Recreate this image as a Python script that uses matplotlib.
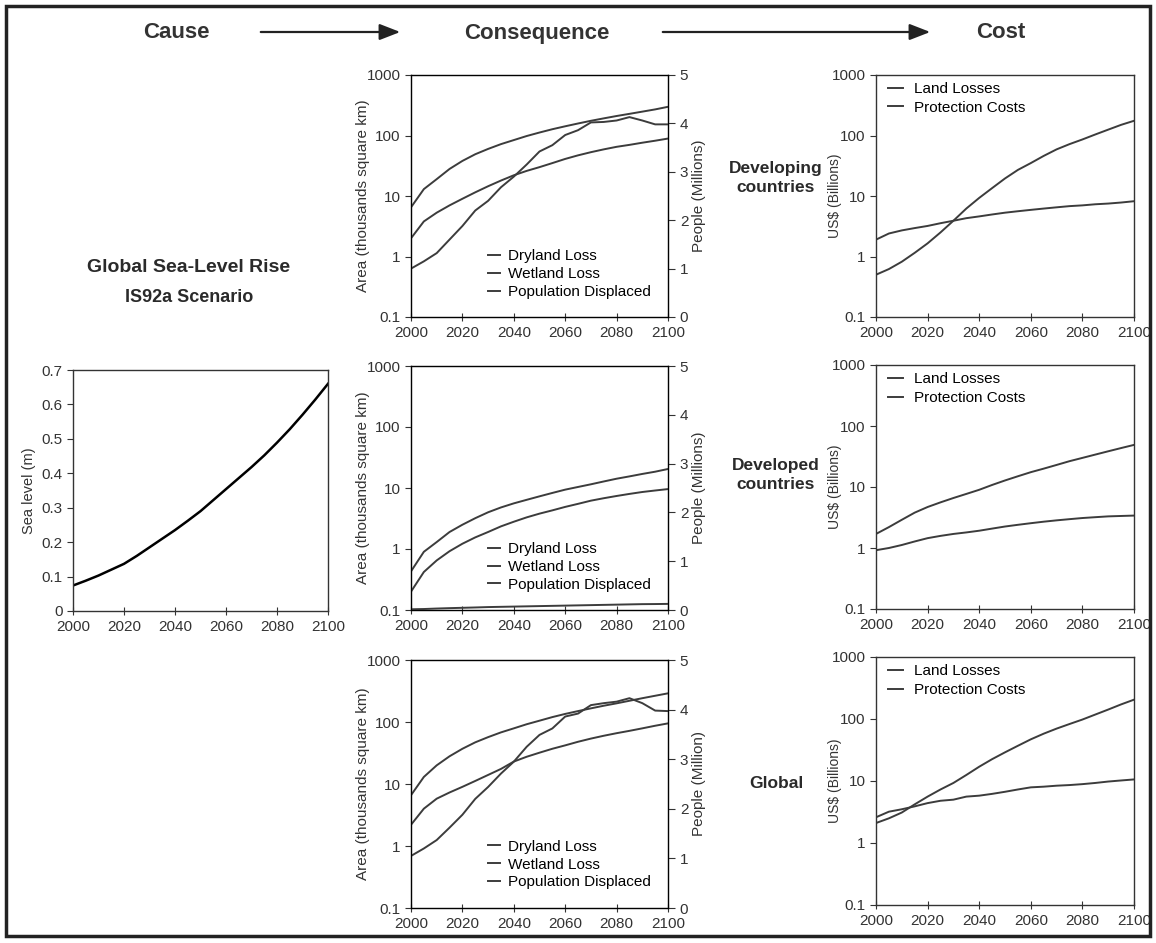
import matplotlib
matplotlib.use("Agg")
import matplotlib.pyplot as plt
from matplotlib.patches import Rectangle, FancyArrowPatch
from matplotlib.lines import Line2D

plt.rcParams['font.family'] = ['Liberation Sans', 'DejaVu Sans']

years = [2000, 2005, 2010, 2015, 2020, 2025, 2030, 2035, 2040, 2045, 2050,
         2055, 2060, 2065, 2070, 2075, 2080, 2085, 2090, 2095, 2100]

# cause: global sea-level rise (m)
sea_level = [0.074, 0.088, 0.103, 0.12, 0.137, 0.16, 0.185, 0.21, 0.235, 0.262, 0.29,
             0.322, 0.354, 0.386, 0.418, 0.452, 0.489, 0.528, 0.57, 0.614, 0.66]

# consequence: area lost (thousand km2) and people displaced (millions)
dev_ing_dry = [6.5, 13, 19, 28, 38, 49, 60, 72, 84, 98, 112,
               127, 142, 158, 175, 192, 210, 228, 248, 270, 298]
dev_ing_wet = [2.0, 3.8, 5.3, 7.0, 9.0, 11.5, 14.5, 18, 22, 26, 30,
               35, 41, 47, 53, 59, 65, 70, 76, 82, 89]
dev_ing_pop = [1.0, 1.15, 1.32, 1.6, 1.88, 2.2, 2.4, 2.68, 2.9, 3.15, 3.42,
               3.55, 3.76, 3.86, 4.02, 4.03, 4.06, 4.13, 4.06, 3.98, 3.98]

dev_ed_dry = [0.43, 0.9, 1.3, 1.9, 2.5, 3.2, 4.0, 4.8, 5.6, 6.4, 7.3,
              8.3, 9.4, 10.4, 11.5, 12.8, 14.2, 15.5, 17, 18.5, 20.5]
dev_ed_wet = [0.2, 0.42, 0.65, 0.92, 1.22, 1.55, 1.9, 2.35, 2.8, 3.3, 3.8,
              4.3, 4.9, 5.5, 6.2, 6.8, 7.4, 8.0, 8.6, 9.1, 9.6]
dev_ed_pop = [0.015, 0.02, 0.03, 0.038, 0.045, 0.052, 0.06, 0.065, 0.07, 0.075, 0.08,
              0.085, 0.09, 0.095, 0.1, 0.105, 0.11, 0.115, 0.12, 0.122, 0.125]

glob_dry = [6.6, 13, 20, 28, 37, 47, 57, 68, 79, 92, 105,
            120, 135, 150, 166, 183, 200, 220, 242, 265, 290]
glob_wet = [2.2, 4.0, 5.8, 7.3, 9.0, 11.2, 14, 17.5, 23, 27.5, 32,
            37, 42, 48, 54, 60, 66, 72, 79, 87, 95]
glob_pop = [1.05, 1.2, 1.37, 1.62, 1.88, 2.2, 2.44, 2.71, 2.95, 3.25, 3.49,
            3.62, 3.86, 3.92, 4.09, 4.13, 4.16, 4.23, 4.13, 3.98, 3.97]

# cost: US$ billions
dev_ing_land = [0.5, 0.62, 0.82, 1.15, 1.65, 2.5, 3.9, 6.2, 9.3, 13.5, 19.5,
                27, 35, 46, 59, 72, 86, 104, 125, 150, 175]
dev_ing_prot = [1.9, 2.4, 2.7, 2.95, 3.2, 3.55, 3.9, 4.3, 4.6, 4.95, 5.3,
                5.6, 5.9, 6.2, 6.5, 6.8, 7.0, 7.3, 7.5, 7.8, 8.2]
dev_ed_land = [1.7, 2.2, 2.9, 3.8, 4.7, 5.6, 6.6, 7.7, 9.0, 10.8, 12.8,
               15, 17.5, 20, 23, 26.5, 30, 34, 38.5, 43.5, 49]
dev_ed_prot = [0.92, 1.0, 1.12, 1.28, 1.45, 1.58, 1.7, 1.8, 1.92, 2.08, 2.25,
               2.4, 2.55, 2.7, 2.84, 2.97, 3.1, 3.2, 3.3, 3.35, 3.4]
glob_land = [2.1, 2.5, 3.1, 4.2, 5.6, 7.3, 9.3, 12.5, 17, 22.5, 29,
             37, 47, 58, 70, 83, 98, 118, 142, 172, 205]
glob_prot = [2.6, 3.2, 3.5, 3.9, 4.4, 4.8, 5.0, 5.6, 5.8, 6.2, 6.7,
             7.3, 7.9, 8.1, 8.4, 8.6, 8.9, 9.3, 9.8, 10.2, 10.6]

x_ticks = [2000, 2020, 2040, 2060, 2080, 2100]
log_ticks = [0.1, 1, 10, 100, 1000]
log_labels = ["0.1", "1", "10", "100", "1000"]
sea_ticks = [0, 0.1, 0.2, 0.3, 0.4, 0.5, 0.6, 0.7]
sea_labels = ["0", "0.1", "0.2", "0.3", "0.4", "0.5", "0.6", "0.7"]
people_ticks = [0, 1, 2, 3, 4, 5]
row_names = ["Developing\ncountries", "Developed\ncountries", "Global"]
people_units = ["People (Millions)", "People (Millions)", "People (Million)"]

W, H = 1156, 943
fig = plt.figure(figsize=(W / 100, H / 100), dpi=100)
LC = "#3c3c3c"
TC = "#2a2a2a"
AC = "#333333"


def px_axes(x0, y0, x1, y1):
    return fig.add_axes([x0 / W, 1 - y1 / H, (x1 - x0) / W, (y1 - y0) / H])


def style(ax):
    for s in ax.spines.values():
        s.set_color(AC)
        s.set_linewidth(1.0)
    ax.tick_params(labelsize=11, colors=AC, length=4)
    ax.tick_params(axis="x", direction="inout", length=6)
    ax.set_xlim(2000, 2100)
    ax.set_xticks(x_ticks)


def log_axis(ax):
    ax.set_yscale("log")
    ax.set_ylim(0.1, 1000)
    ax.set_yticks(log_ticks)
    ax.set_yticklabels(log_labels)
    ax.minorticks_off()


# frame and header
fig.patches.append(Rectangle((6 / W, 1 - 936 / H), 1144 / W, 930 / H,
                             transform=fig.transFigure, fill=False,
                             edgecolor="#222222", linewidth=2.5))
for txt, xc in [("Cause", 176), ("Consequence", 537), ("Cost", 1001)]:
    fig.text(xc / W, 1 - 33 / H, txt, ha="center", va="center",
             fontsize=16, fontweight="bold", color=AC)
for xa, xb in [(258, 403), (660, 933)]:
    fig.add_artist(FancyArrowPatch(
        (xa / W, 1 - 32 / H), (xb / W, 1 - 32 / H), transform=fig.transFigure,
        arrowstyle="-|>,head_length=0.9,head_width=0.35", color="#222222",
        linewidth=1.6, mutation_scale=14))

# cause panel
fig.text(189 / W, 1 - 268 / H, "Global Sea-Level Rise", ha="center", va="center",
         fontsize=14, fontweight="bold", color=TC)
fig.text(189 / W, 1 - 298 / H, "IS92a Scenario", ha="center", va="center",
         fontsize=13, fontweight="bold", color=TC)
ax = px_axes(73, 370, 328, 611)
ax.plot(years, sea_level, color="black", linewidth=1.8)
style(ax)
ax.set_ylim(0, 0.7)
ax.set_yticks(sea_ticks)
ax.set_yticklabels(sea_labels)
ax.set_ylabel("Sea level (m)", fontsize=10.5, color=AC)

# consequence panels
cons_rows = [(75, 317), (366, 610), (660, 908)]
cons_data = [(dev_ing_dry, dev_ing_wet, dev_ing_pop),
             (dev_ed_dry, dev_ed_wet, dev_ed_pop),
             (glob_dry, glob_wet, glob_pop)]
for (y0, y1), (dry, wet, pop), unit in zip(cons_rows, cons_data, people_units):
    ax = px_axes(411, y0, 668, y1)
    ax.plot(years, dry, color=LC, linewidth=1.4)
    ax.plot(years, wet, color=LC, linewidth=1.4)
    log_axis(ax)
    style(ax)
    ax.set_ylabel("Area (thousands square km)", fontsize=11, color=AC)
    ax.yaxis.set_label_coords(-0.16, 0.5)
    ax2 = ax.twinx()
    ax2.plot(years, pop, color=LC, linewidth=1.4)
    ax2.set_ylim(0, 5)
    ax2.set_yticks(people_ticks)
    ax2.tick_params(labelsize=11, colors=AC, length=5)
    ax2.set_ylabel(unit, fontsize=11, color=AC, labelpad=3)
    handles = [Line2D([], [], color=LC, linewidth=1.4) for _ in range(3)]
    ax2.legend(handles, ["Dryland Loss", "Wetland Loss", "Population Displaced"],
               loc="lower left", bbox_to_anchor=(0.3, 0.075), frameon=False,
               fontsize=11, handlelength=0.8, handletextpad=0.5,
               labelspacing=0.25, borderpad=0, borderaxespad=0)

# cost panels
cost_rows = [(75, 317), (365, 609), (657, 905)]
cost_data = [(dev_ing_land, dev_ing_prot), (dev_ed_land, dev_ed_prot),
             (glob_land, glob_prot)]
label_y = [178, 475, 783]
for (y0, y1), (land, prot), name, ly in zip(cost_rows, cost_data, row_names, label_y):
    ax = px_axes(876, y0, 1134, y1)
    ax.plot(years, land, color=LC, linewidth=1.4, label="Land Losses")
    ax.plot(years, prot, color=LC, linewidth=1.4, label="Protection Costs")
    log_axis(ax)
    style(ax)
    ax.set_ylabel("US$ (Billions)", fontsize=10, color=AC)
    ax.yaxis.set_label_coords(-0.13, 0.5)
    ax.legend(loc="upper left", bbox_to_anchor=(0.045, 0.97), frameon=False,
              fontsize=11, handlelength=1.0, handletextpad=0.7,
              labelspacing=0.3, borderpad=0, borderaxespad=0)
    fig.text(776 / W, 1 - ly / H, name, ha="center", va="center",
             fontsize=12.5, fontweight="bold", color=TC, linespacing=1.3)

fig.savefig("out.png", dpi=100)
